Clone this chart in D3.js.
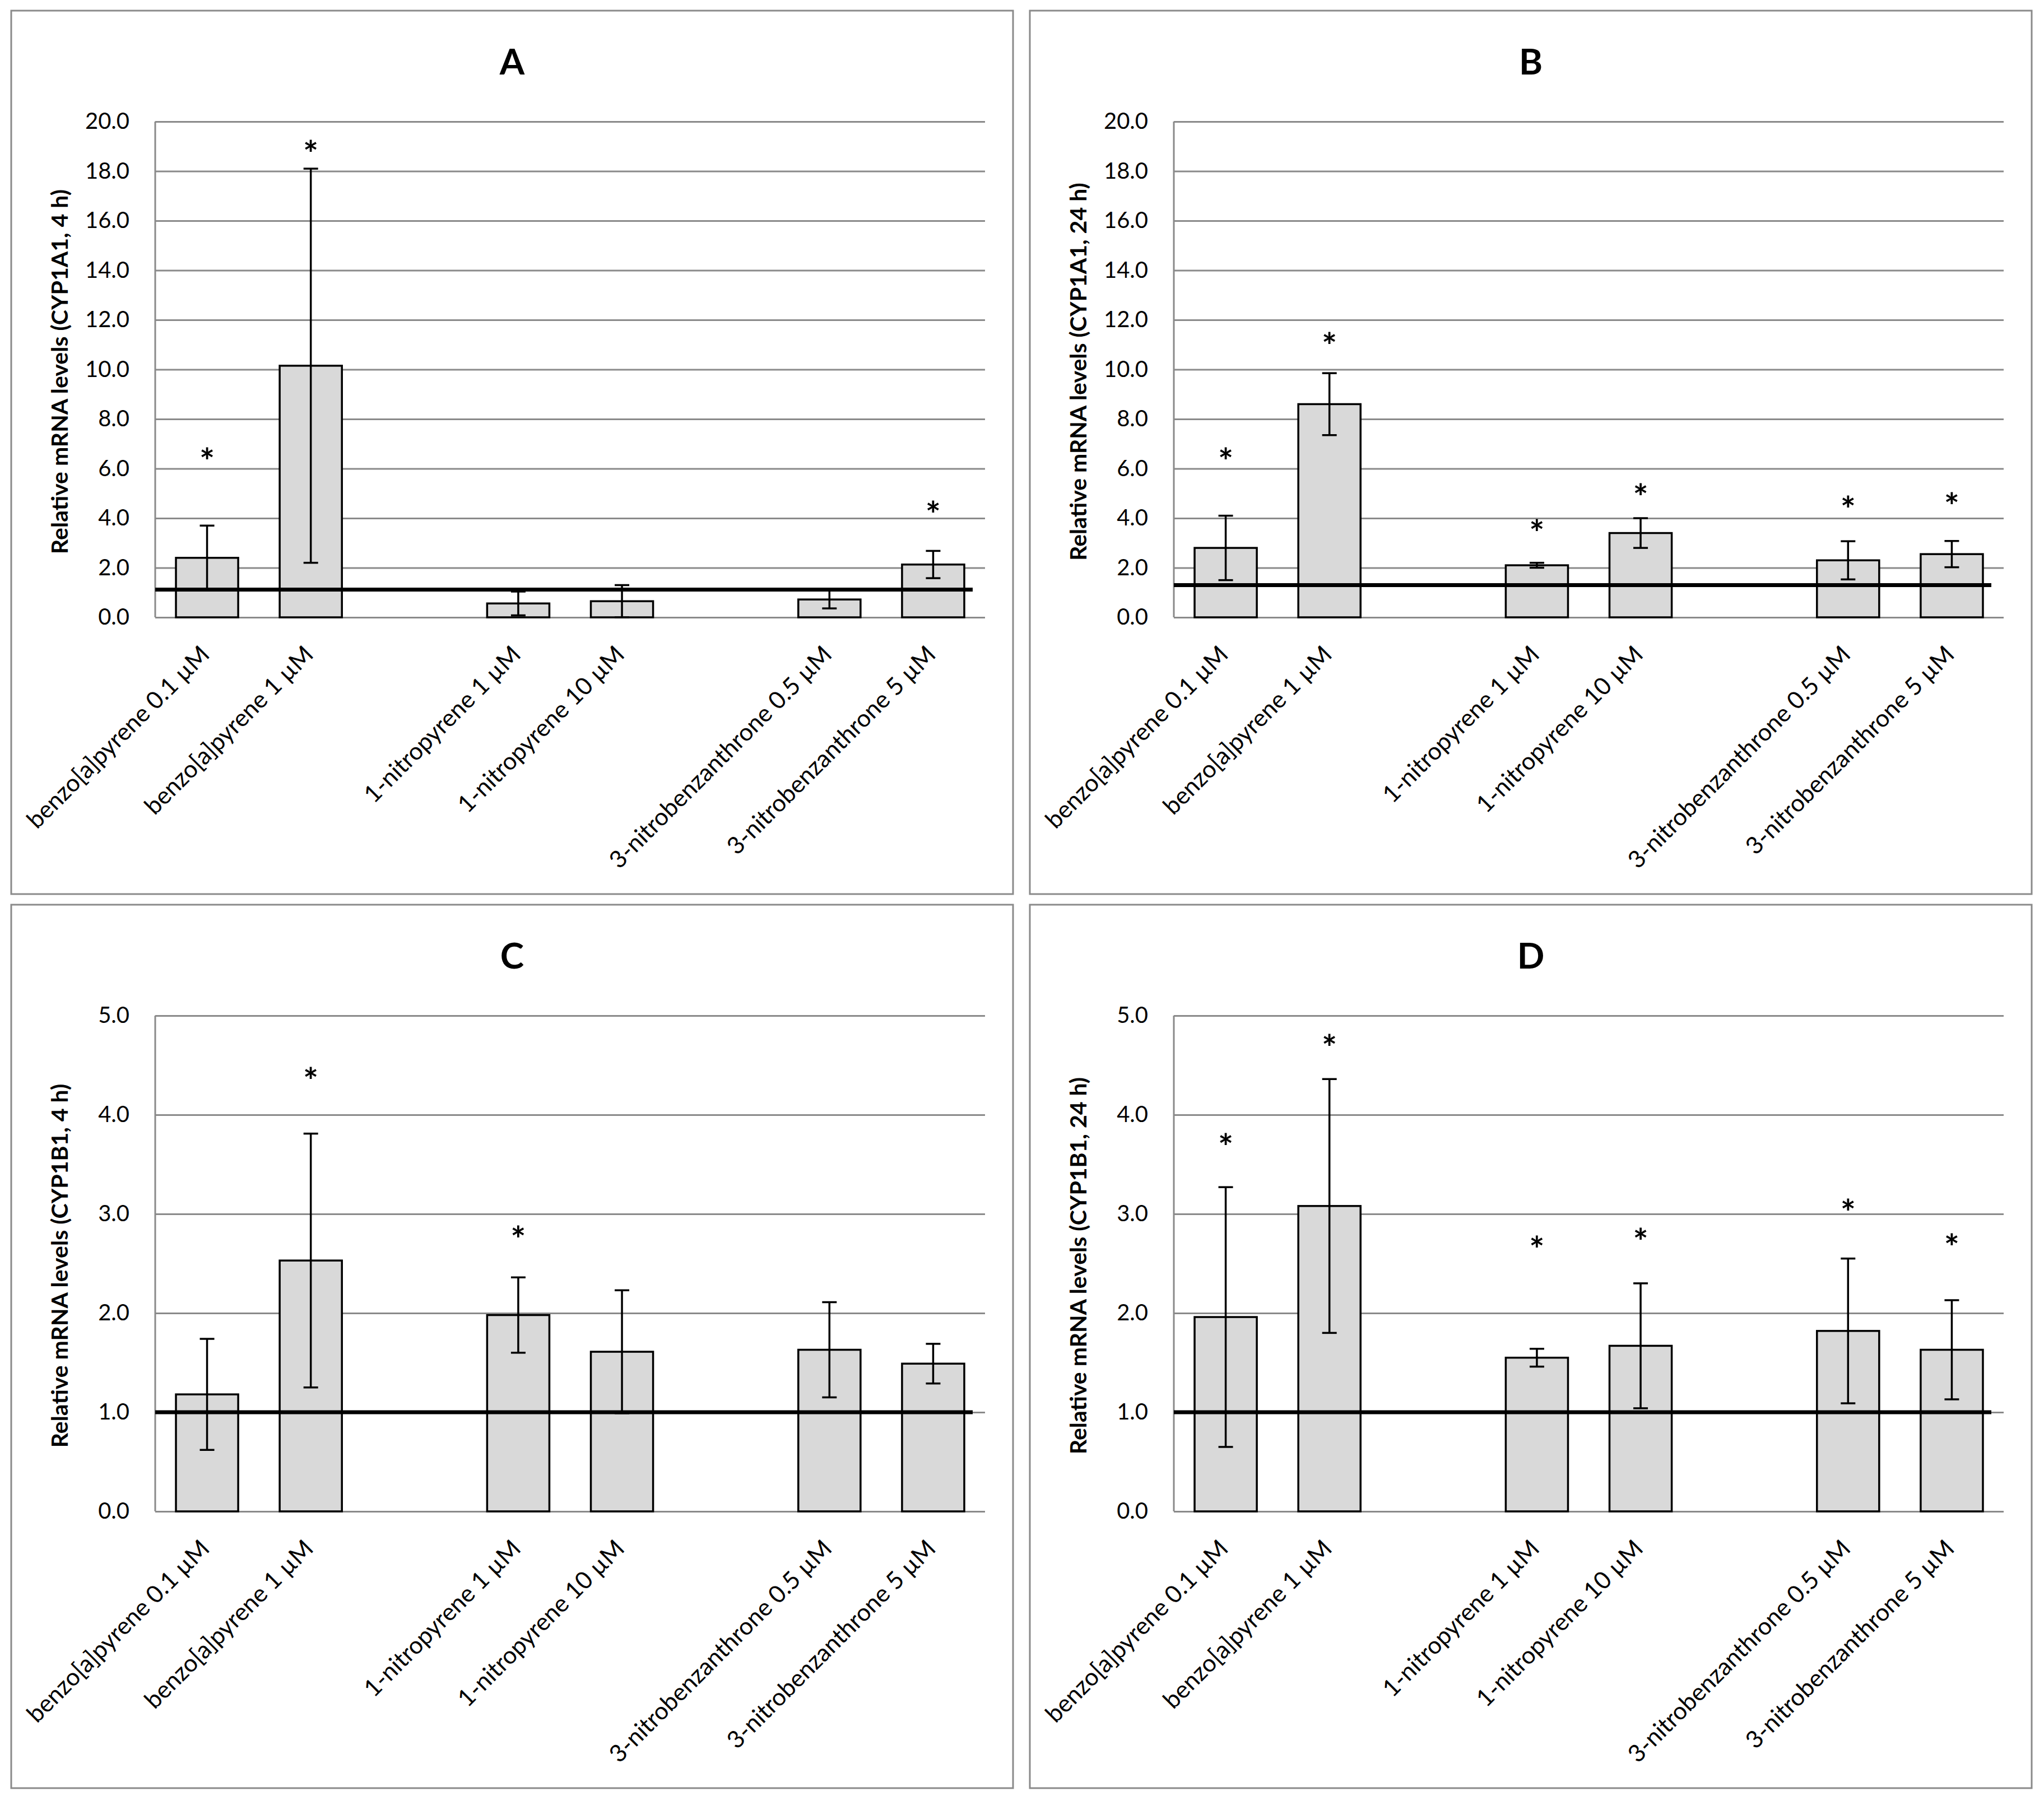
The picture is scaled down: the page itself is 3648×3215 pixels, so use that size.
<!DOCTYPE html>
<html>
<head>
<meta charset="utf-8">
<script src="https://cdn.jsdelivr.net/npm/d3@7"></script>
<style>
  body { margin: 0; background: #fff; }
  svg { display: block; }
  text { font-family: Lato, "Liberation Sans", sans-serif; fill: #000; }
</style>
</head>
<body>
<div id="chart"></div>
<script>
// categories (empty strings are the blank spacer slots of the original sheet)
var categories = ["benzo[a]pyrene 0.1 \u00b5M", "benzo[a]pyrene 1 \u00b5M", "",
    "1-nitropyrene 1 \u00b5M", "1-nitropyrene 10 \u00b5M", "",
    "3-nitrobenzanthrone 0.5 \u00b5M", "3-nitrobenzanthrone 5 \u00b5M"];

var panelTitles = ["A", "B", "C", "D"];
var yTitles = ["Relative mRNA levels (CYP1A1, 4 h)", "Relative mRNA levels (CYP1A1, 24 h)",
    "Relative mRNA levels (CYP1B1, 4 h)", "Relative mRNA levels (CYP1B1, 24 h)"];

// mean, error and the height of the significance star
var meanA = [2.4, 10.15, null, 0.56, 0.65, null, 0.72, 2.13];
var errA  = [1.3, 7.95, null, 0.48, 0.65, null, 0.36, 0.55];
var starA = [6.6, 19.0, null, null, null, null, null, 4.45];

var meanB = [2.8, 8.6, null, 2.1, 3.4, null, 2.3, 2.55];
var errB  = [1.3, 1.25, null, 0.1, 0.6, null, 0.77, 0.53];
var starB = [6.6, 11.25, null, 3.7, 5.15, null, 4.65, 4.8];

var meanC = [1.18, 2.53, null, 1.98, 1.61, null, 1.63, 1.49];
var errC  = [0.56, 1.28, null, 0.38, 0.62, null, 0.48, 0.2];
var starC = [null, 4.42, null, 2.82, null, null, null, null];

var meanD = [1.96, 3.08, null, 1.55, 1.67, null, 1.82, 1.63];
var errD  = [1.31, 1.28, null, 0.09, 0.63, null, 0.73, 0.5];
var starD = [3.75, 4.75, null, 2.72, 2.8, null, 3.09, 2.74];

// control level (horizontal black line)
var controlLevels = [1.12, 1.3, 1.0, 1.0];

// y axis ticks
var ticksCYP1A1 = [0, 2, 4, 6, 8, 10, 12, 14, 16, 18, 20];
var ticksCYP1B1 = [0, 1, 2, 3, 4, 5];

var means = [meanA, meanB, meanC, meanD];
var errs = [errA, errB, errC, errD];
var stars = [starA, starB, starC, starD];
var tickSets = [ticksCYP1A1, ticksCYP1A1, ticksCYP1B1, ticksCYP1B1];

var svg = d3.select("#chart").append("svg")
    .attr("width", 3648)
    .attr("height", 3215);

svg.append("rect").attr("width", 3648).attr("height", 3215).attr("fill", "#fff");

/*
 *  One bar chart panel
 */
BarPanel = function(_idx, _left, _top) {
    this.idx = _idx;
    this.left = _left;
    this.top = _top;
    this.boxW = 1788;
    this.boxH = 1577;
    this.margin = { top: 198, left: 257, right: 50 };
    this.width = 1481;
    this.height = 885;
    this.initVis();
}

BarPanel.prototype.initVis = function() {
    var vis = this;

    vis.g = svg.append("g").attr("transform", "translate(" + vis.left + "," + vis.top + ")");

    vis.g.append("rect")
        .attr("width", vis.boxW)
        .attr("height", vis.boxH)
        .attr("fill", "#fff")
        .attr("stroke", "#8a8a8a")
        .attr("stroke-width", 3);

    vis.g.append("text")
        .attr("x", vis.boxW / 2)
        .attr("y", 114)
        .attr("text-anchor", "middle")
        .style("font-size", "64px")
        .style("font-weight", "bold")
        .text(panelTitles[vis.idx]);

    vis.g.append("text")
        .attr("transform", "translate(87," + (vis.margin.top + vis.height / 2 + 4) + ") rotate(-90)")
        .attr("text-anchor", "middle")
        .attr("dy", "0.35em")
        .style("font-size", "41px")
        .style("font-weight", "bold")
        .text(yTitles[vis.idx]);

    vis.plot = vis.g.append("g")
        .attr("transform", "translate(" + vis.margin.left + "," + vis.margin.top + ")");

    var ticks = tickSets[vis.idx];
    vis.x = d3.scaleBand()
        .domain(d3.range(categories.length))
        .range([0, vis.width])
        .paddingInner(0.4)
        .paddingOuter(0.2);
    vis.y = d3.scaleLinear()
        .domain([0, d3.max(ticks)])
        .range([vis.height, 0]);

    vis.wrangleData();
}

BarPanel.prototype.wrangleData = function() {
    var vis = this;
    vis.displayData = [];
    categories.forEach(function(c, i) {
        var m = means[vis.idx][i];
        if (m == null) return;
        vis.displayData.push({ i: i, mean: m, err: errs[vis.idx][i], star: stars[vis.idx][i] });
    });
    vis.updateVis();
}

BarPanel.prototype.updateVis = function() {
    var vis = this;
    var ticks = tickSets[vis.idx];

    // gridlines
    var grid = vis.plot.append("g")
        .call(d3.axisLeft(vis.y).tickValues(ticks).tickSize(-vis.width).tickFormat(""));
    grid.select(".domain").remove();
    grid.selectAll("line").attr("stroke", "#8a8a8a").attr("stroke-width", 3);

    // left axis line
    vis.plot.append("line")
        .attr("x1", 0).attr("x2", 0)
        .attr("y1", 0).attr("y2", vis.height)
        .attr("stroke", "#8a8a8a").attr("stroke-width", 3);

    // y tick labels
    var yAxis = vis.plot.append("g")
        .call(d3.axisLeft(vis.y).tickValues(ticks).tickSize(0).tickPadding(46).tickFormat(d3.format(".1f")));
    yAxis.select(".domain").remove();
    yAxis.selectAll("text")
        .style("font-size", "40px")
        .style("font-family", "Lato, 'Liberation Sans', sans-serif")
        .attr("fill", "#000");

    // category labels
    var xAxis = vis.plot.append("g")
        .attr("transform", "translate(0," + vis.height + ")")
        .call(d3.axisBottom(vis.x).tickSize(0).tickFormat(function(i) { return categories[i]; }));
    xAxis.select(".domain").remove();
    xAxis.selectAll("text")
        .attr("x", 0).attr("y", 0).attr("dy", null)
        .attr("text-anchor", "end")
        .attr("transform", "translate(7,69) rotate(-45)")
        .style("font-size", "43px")
        .style("font-family", "Lato, 'Liberation Sans', sans-serif")
        .attr("fill", "#000");

    // bars
    vis.plot.selectAll(".bar")
        .data(vis.displayData)
        .enter().append("rect")
        .attr("class", "bar")
        .attr("x", function(d) { return vis.x(d.i); })
        .attr("y", function(d) { return vis.y(d.mean); })
        .attr("width", vis.x.bandwidth())
        .attr("height", function(d) { return vis.height - vis.y(d.mean); })
        .attr("fill", "#d9d9d9")
        .attr("stroke", "#000")
        .attr("stroke-width", 3.5);

    // error bars
    var eb = vis.plot.selectAll(".err")
        .data(vis.displayData)
        .enter().append("g")
        .attr("class", "err")
        .attr("transform", function(d) { return "translate(" + (vis.x(d.i) + vis.x.bandwidth() / 2) + ",0)"; });
    eb.append("line")
        .attr("y1", function(d) { return vis.y(Math.max(0, d.mean - d.err)); })
        .attr("y2", function(d) { return vis.y(d.mean + d.err); })
        .attr("stroke", "#000").attr("stroke-width", 3.5);
    eb.append("line")
        .attr("x1", -13).attr("x2", 13)
        .attr("y1", function(d) { return vis.y(d.mean + d.err); })
        .attr("y2", function(d) { return vis.y(d.mean + d.err); })
        .attr("stroke", "#000").attr("stroke-width", 3.5);
    eb.append("line")
        .attr("x1", -13).attr("x2", 13)
        .attr("y1", function(d) { return vis.y(Math.max(0, d.mean - d.err)); })
        .attr("y2", function(d) { return vis.y(Math.max(0, d.mean - d.err)); })
        .attr("stroke", "#000").attr("stroke-width", 3.5);

    // control level line
    vis.plot.append("line")
        .attr("x1", 0).attr("x2", vis.width - 22)
        .attr("y1", vis.y(controlLevels[vis.idx]))
        .attr("y2", vis.y(controlLevels[vis.idx]))
        .attr("stroke", "#000").attr("stroke-width", 7);

    // significance stars
    vis.plot.selectAll(".star")
        .data(vis.displayData.filter(function(d) { return d.star != null; }))
        .enter().append("text")
        .attr("class", "star")
        .attr("x", function(d) { return vis.x(d.i) + vis.x.bandwidth() / 2; })
        .attr("y", function(d) { return vis.y(d.star); })
        .attr("dy", "0.58em")
        .attr("text-anchor", "middle")
        .style("font-size", "64px")
        .style("font-weight", "bold")
        .attr("fill", "#1c1c2c")
        .text("*");
}

var panelLefts = [20, 1838, 20, 1838];
var panelTops = [19, 19, 1615, 1615];
panelTitles.forEach(function(t, k) {
    new BarPanel(k, panelLefts[k], panelTops[k]);
});
</script>
</body>
</html>
